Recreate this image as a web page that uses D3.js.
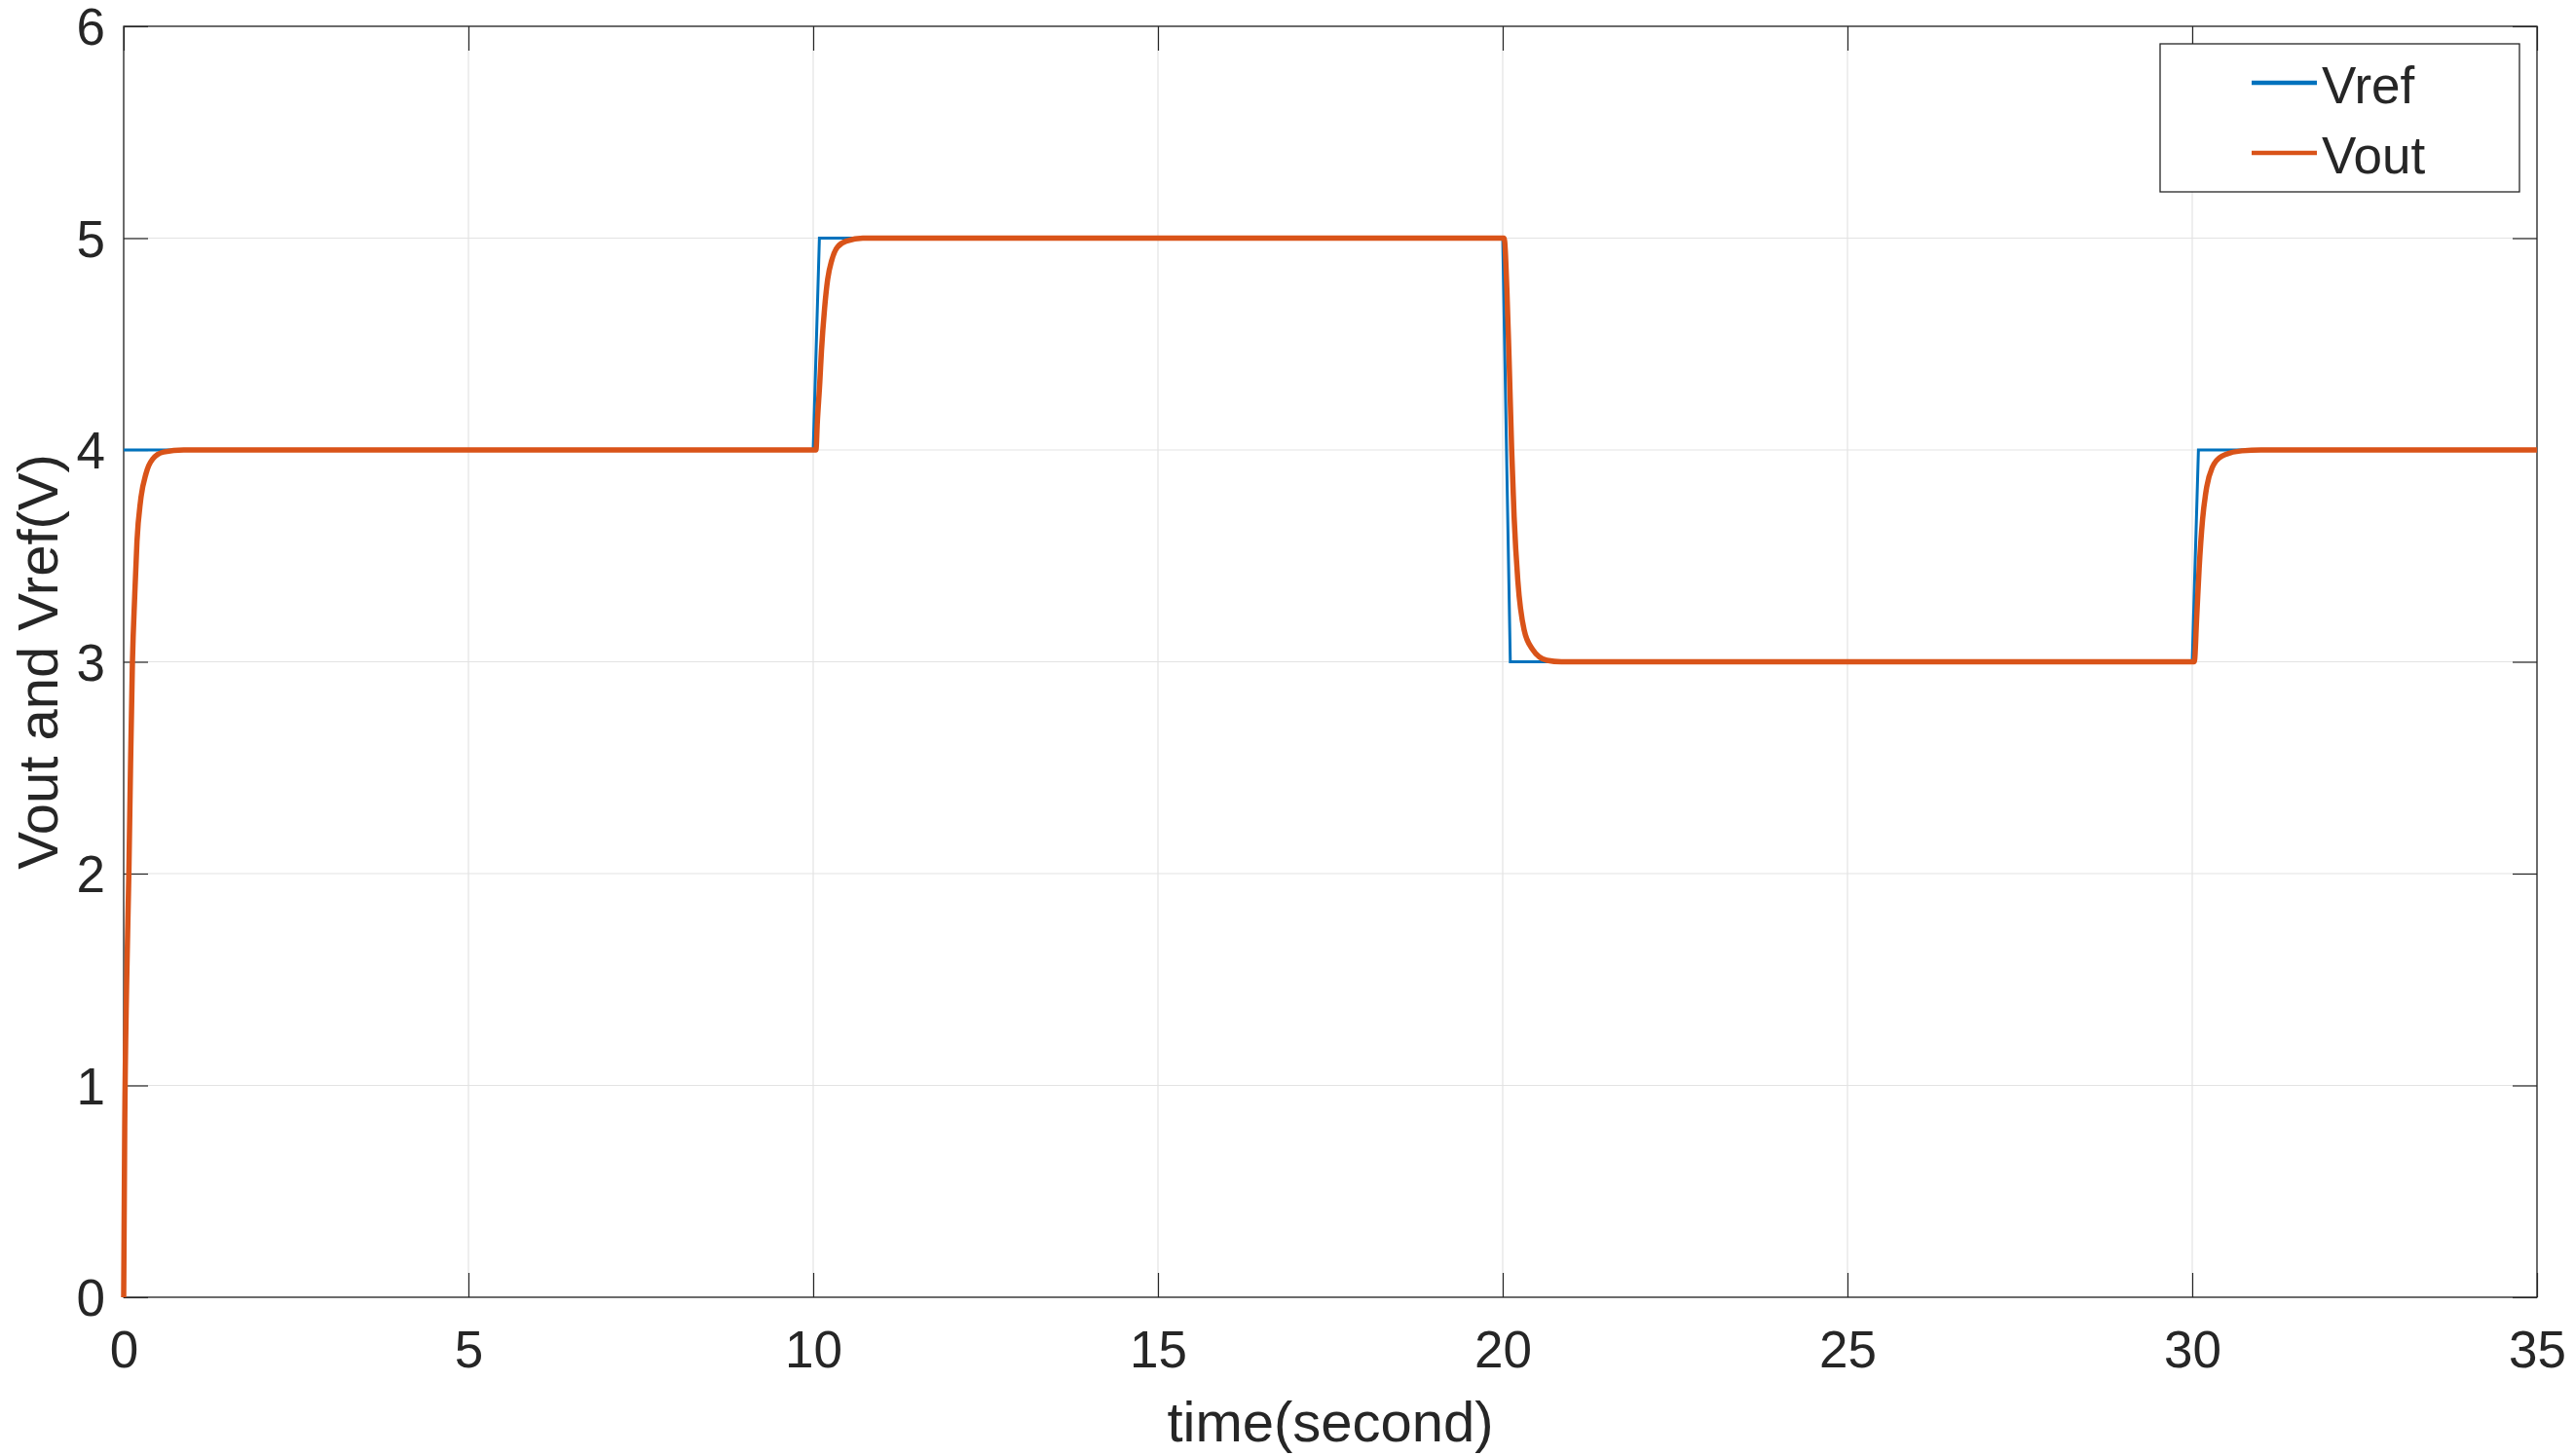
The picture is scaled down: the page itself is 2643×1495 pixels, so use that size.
<!DOCTYPE html>
<html>
<head>
<meta charset="utf-8">
<script src="https://cdn.jsdelivr.net/npm/d3@7"></script>
<style>
  html, body { margin: 0; padding: 0; background: #ffffff; }
  svg { display: block; }
  text { font-family: "Liberation Sans", Arial, Helvetica, sans-serif; fill: #262626; }
</style>
</head>
<body>
<svg id="chart" width="2643" height="1495"></svg>
<script>
// ---------------- data ----------------
const xTicks = [0, 5, 10, 15, 20, 25, 30, 35];
const yTicks = [0, 1, 2, 3, 4, 5, 6];
const xLabel = "time(second)";
const yLabel = "Vout and Vref(V)";
const seriesNames = ["Vref", "Vout"];

const vrefTime = [0, 10.0, 10.09, 20.0, 20.11, 30.0, 30.09, 35];
const vrefValue = [4, 4, 5, 5, 3, 3, 4, 4];

const voutTime = [
  0, 0.015, 0.042, 0.075, 0.10, 0.127, 0.16, 0.193, 0.245, 0.325, 0.42, 0.58, 0.87,
  10.0, 10.04, 10.06, 10.095, 10.12, 10.165, 10.21, 10.27, 10.35, 10.49, 10.72,
  20.0, 20.02, 20.06, 20.09, 20.13, 20.165, 20.22, 20.31, 20.43, 20.64, 20.85,
  30.0, 30.03, 30.065, 30.10, 30.15, 30.21, 30.29, 30.43, 30.72, 31.0, 35
];
const voutValue = [
  0, 0.8, 1.47, 2.0, 2.52, 3.0, 3.31, 3.57, 3.76, 3.89, 3.957, 3.99, 4.0,
  4.0, 4.0, 4.132, 4.316, 4.469, 4.668, 4.806, 4.897, 4.957, 4.987, 5.0,
  5.0, 5.0, 4.76, 4.454, 4.0, 3.687, 3.38, 3.151, 3.06, 3.007, 3.0,
  3.0, 3.0, 3.212, 3.44, 3.672, 3.825, 3.917, 3.971, 3.996, 4.0, 4.0
];

// ---------------- layout ----------------
const L = 127, R = 2605, T = 27, B = 1332;
const axisColor = "#262626";
const gridColor = "#e3e3e3";
const colors = ["#0072BD", "#D95319"];
const widths = [3, 5.5];
const tickLen = 25;
const fs = 53;
const labelFs = 58;

const svg = d3.select("#chart");
const x = d3.scaleLinear().domain([0, 35]).range([L, R]);
const y = d3.scaleLinear().domain([0, 6]).range([B, T]);

// grid
const grid = svg.append("g");
grid.selectAll("line.gx").data(xTicks).join("line")
  .attr("x1", d => x(d)).attr("x2", d => x(d)).attr("y1", T).attr("y2", B)
  .attr("stroke", gridColor).attr("stroke-width", 1.2);
grid.selectAll("line.gy").data(yTicks).join("line")
  .attr("x1", L).attr("x2", R).attr("y1", d => y(d)).attr("y2", d => y(d))
  .attr("stroke", gridColor).attr("stroke-width", 1.2);

// axes via d3 axis (inner ticks)
const xAxisB = d3.axisBottom(x).tickValues(xTicks).tickSizeInner(-tickLen).tickSizeOuter(0).tickPadding(0).tickFormat(d3.format("d"));
const yAxisL = d3.axisLeft(y).tickValues(yTicks).tickSizeInner(-tickLen).tickSizeOuter(0).tickPadding(0).tickFormat(d3.format("d"));

const gx = svg.append("g").attr("transform", `translate(0,${B})`).call(xAxisB);
gx.select(".domain").remove();
gx.selectAll(".tick line").attr("stroke", axisColor).attr("stroke-width", 1.2);
gx.selectAll(".tick text").attr("y", 72).attr("dy", null)
  .style("font-size", fs + "px").attr("fill", axisColor);

const gy = svg.append("g").attr("transform", `translate(${L},0)`).call(yAxisL);
gy.select(".domain").remove();
gy.selectAll(".tick line").attr("stroke", axisColor).attr("stroke-width", 1.2);
gy.selectAll(".tick text").attr("x", -19).attr("dy", (0.358 * fs) + "px")
  .style("font-size", fs + "px").attr("fill", axisColor).attr("text-anchor", "end");

// mirrored ticks (top and right)
const gxt = svg.append("g").attr("transform", `translate(0,${T})`)
  .call(d3.axisTop(x).tickValues(xTicks).tickSizeInner(-tickLen).tickSizeOuter(0).tickFormat(""));
gxt.select(".domain").remove();
gxt.selectAll(".tick line").attr("stroke", axisColor).attr("stroke-width", 1.2);
const gyr = svg.append("g").attr("transform", `translate(${R},0)`)
  .call(d3.axisRight(y).tickValues(yTicks).tickSizeInner(-tickLen).tickSizeOuter(0).tickFormat(""));
gyr.select(".domain").remove();
gyr.selectAll(".tick line").attr("stroke", axisColor).attr("stroke-width", 1.2);

// box
svg.append("rect").attr("x", L).attr("y", T).attr("width", R - L).attr("height", B - T)
  .attr("fill", "none").attr("stroke", axisColor).attr("stroke-width", 1.3);

// axis labels
svg.append("text").attr("x", (L + R) / 2).attr("y", 1480)
  .attr("text-anchor", "middle").style("font-size", labelFs + "px").text(xLabel);
svg.append("text").attr("transform", `translate(59,${(T + B) / 2}) rotate(-90)`)
  .attr("text-anchor", "middle").style("font-size", labelFs + "px").text(yLabel);

// data lines
const vref = vrefTime.map((t, i) => [t, vrefValue[i]]);
const vout = voutTime.map((t, i) => [t, voutValue[i]]);
const lineLin = d3.line().x(d => x(d[0])).y(d => y(d[1]));
const lineSmooth = d3.line().x(d => x(d[0])).y(d => y(d[1])).curve(d3.curveMonotoneX);

svg.append("path").datum(vref).attr("d", lineLin)
  .attr("fill", "none").attr("stroke", colors[0]).attr("stroke-width", widths[0])
  .attr("stroke-linejoin", "miter");
svg.append("path").datum(vout).attr("d", lineSmooth)
  .attr("fill", "none").attr("stroke", colors[1]).attr("stroke-width", widths[1])
  .attr("stroke-linejoin", "round");

// legend
const lg = svg.append("g");
lg.append("rect").attr("x", 2218).attr("y", 45).attr("width", 2587 - 2218).attr("height", 197 - 45)
  .attr("fill", "#ffffff").attr("stroke", axisColor).attr("stroke-width", 1.3);
const legY = [85, 157];
seriesNames.forEach((name, i) => {
  lg.append("line").attr("x1", 2312).attr("x2", 2379).attr("y1", legY[i]).attr("y2", legY[i])
    .attr("stroke", colors[i]).attr("stroke-width", 4.5);
  lg.append("text").attr("x", 2384).attr("y", legY[i] + 0.358 * fs + 2)
    .style("font-size", fs + "px").attr("fill", "#000000").text(name);
});
</script>
</body>
</html>
